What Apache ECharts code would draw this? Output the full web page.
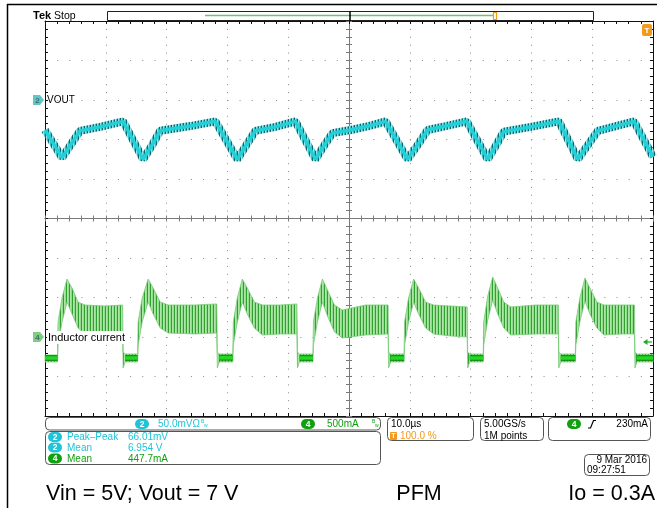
<!DOCTYPE html>
<html>
<head>
<meta charset="utf-8">
<title>VOUT / Inductor current - PFM</title>
<script src="https://cdn.jsdelivr.net/npm/echarts@6/dist/echarts.min.js"></script>
<style>
  html, body { margin: 0; padding: 0; background: #fff; }
  #main { width: 657px; height: 508px; }
</style>
</head>
<body>
<div id="main"></div>
<script>
// time base: 10 us/div, 10 divisions
// ch2 VOUT (V), 50 mV/div
const vTime = [0, 2.80, 4.12, 5.77, 9.06, 12.85, 16.14, 17.63, 18.95, 23.89, 28.01, 31.63, 33.11, 34.60, 37.89, 41.19, 44.48, 45.96, 47.28, 50.25, 53.21, 56.01, 59.64, 61.29, 62.93, 65.90, 69.36, 72.82, 74.14, 75.45, 79.90, 84.51, 87.64, 89.29, 90.94, 93.90, 96.87, 100]
const vOut = [6.962, 6.927, 6.942, 6.961, 6.966, 6.973, 6.925, 6.943, 6.961, 6.967, 6.973, 6.925, 6.943, 6.961, 6.966, 6.973, 6.925, 6.943, 6.958, 6.962, 6.967, 6.973, 6.925, 6.943, 6.962, 6.967, 6.973, 6.925, 6.942, 6.960, 6.966, 6.973, 6.925, 6.943, 6.961, 6.967, 6.973, 6.928]

// ch4 inductor current (mA), 500 mA/div - ripple envelope (low / high)
const iTime = [0, 2.06, 2.14, 2.80, 3.62, 4.45, 5.44, 6.59, 9.88, 12.77,
  12.85, 13.18, 15.24, 15.32, 15.98, 16.97, 17.79, 18.95, 20.26, 24.71,
  28.25, 28.34, 28.67, 30.89, 30.97, 31.63, 32.45, 33.28, 34.43, 35.75,
  38.71, 41.43, 41.52, 41.85, 44.07, 44.15, 44.81, 45.63, 46.46, 47.61,
  48.93, 52.72, 56.43, 56.51, 56.84, 59.06, 59.14, 59.80, 60.63, 61.45,
  62.60, 63.92, 66.72, 69.44, 69.52, 69.85, 72.08, 72.16, 72.82, 73.64,
  74.46, 75.45, 76.61, 80.72, 84.43, 84.51, 84.84, 87.23, 87.31, 87.97,
  88.80, 89.62, 90.77, 91.93, 94.73, 96.95, 97.03, 97.36, 100]
const iLow = [-16, -16, 199, 490, 743, 591, 414, 338, 351, 338,
  -92, -16, -16, 199, 490, 743, 591, 414, 351, 338,
  351, -92, -16, -16, 199, 490, 743, 591, 414, 325,
  338, 338, -92, -16, -16, 199, 490, 743, 566, 363,
  287, 325, 338, -92, -16, -16, 199, 490, 743, 591,
  414, 338, 313, 300, -92, -16, -16, 199, 515, 768,
  591, 414, 325, 338, 338, -92, -16, -16, 199, 490,
  756, 591, 414, 325, 338, 338, -92, -16, -16]
const iHigh = [72, 72, 490, 794, 1034, 920, 743, 705, 692, 705,
  110, 85, 85, 490, 794, 1034, 920, 743, 705, 705,
  718, 110, 85, 85, 490, 794, 1034, 920, 743, 705,
  705, 718, 110, 85, 85, 490, 794, 1034, 895, 705,
  642, 705, 705, 110, 85, 85, 490, 794, 1034, 920,
  743, 705, 692, 680, 110, 85, 85, 490, 819, 1060,
  920, 743, 680, 705, 705, 110, 85, 85, 490, 794,
  1047, 920, 743, 705, 705, 705, 110, 85, 85]

// zero-current (DCM) floor segments
const floorStart = [0, 13.18, 28.67, 41.85, 56.84, 69.85, 84.84, 97.36]
const floorEnd = [2.06, 15.24, 30.89, 44.07, 59.06, 72.08, 87.23, 100]
const floorLevel = [34, 34, 36, 34, 35, 34, 34, 35]

// readouts
const ch2Scale = '50.0mV'
const ch4Scale = '500mA'
const measLabels = ['Peak\u2013Peak', 'Mean', 'Mean']
const measValues = ['66.01mV', '6.954 V', '447.7mA']
const measChannels = ['2', '2', '4']

const FONT = '"Liberation Sans", Arial, sans-serif'
const CYAN = '#1fc4d8'
const GREEN = '#10a010'
const ORANGE = '#f39a1a'

var chart = echarts.init(document.getElementById('main'))

function stripes(w, cols) {
  var c = document.createElement('canvas')
  c.width = w
  c.height = 4
  var g = c.getContext('2d')
  for (var i = 0; i < w; i++) {
    g.fillStyle = cols[i % cols.length]
    g.fillRect(i, 0, 1, 4)
  }
  return { image: c, repeat: 'repeat' }
}
// switching ripple look
var curFill = stripes(3, ['#2f9f2f', '#aee6a8', '#94da8f'])
var voutNoise = stripes(3, ['#0c666c', '#9fe0e4', '#3cbfc6'])

var floorData = []
for (var k = 0; k < floorStart.length; k++) {
  floorData.push([floorStart[k], floorLevel[k]])
  floorData.push([floorEnd[k], floorLevel[k]])
  floorData.push([floorEnd[k], null])
}

function txt(x, y, s, opt) {
  return {
    type: 'text', z: 100, x: x, y: y,
    style: Object.assign({
      text: s, fill: '#000', font: '10px ' + FONT,
      verticalAlign: 'middle', textVerticalAlign: 'middle'
    }, opt || {})
  }
}
function badge(x, y, n, color) {
  return {
    type: 'group', x: x, y: y, z: 100,
    children: [
      { type: 'rect', z: 100, shape: { x: -7, y: -5, width: 14, height: 10, r: 5 }, style: { fill: color } },
      { type: 'text', z: 101, style: { text: n, x: 0, y: 0.5, fill: '#fff', font: 'bold 8.5px ' + FONT, align: 'center', textAlign: 'center', verticalAlign: 'middle', textVerticalAlign: 'middle' } }
    ]
  }
}
function panel(x, y, w, h) {
  return { type: 'rect', z: 90, shape: { x: x, y: y, width: w, height: h, r: 4 }, style: { fill: 'none', stroke: '#555', lineWidth: 1 } }
}
function chMarker(y, n, color) {
  return {
    type: 'group', z: 100,
    children: [
      { type: 'polygon', z: 100, shape: { points: [[33, y - 5], [40, y - 5], [44, y], [40, y + 5], [33, y + 5]] }, style: { fill: color } },
      { type: 'text', z: 101, style: { text: n, x: 37.5, y: y + 0.5, fill: '#3d6e6e', font: 'bold 8px ' + FONT, align: 'center', textAlign: 'center', verticalAlign: 'middle', textVerticalAlign: 'middle' } }
    ]
  }
}

function gratX(pos, offset, inside, color) {
  return {
    type: 'value', min: 0, max: 100, interval: 10, position: pos, offset: offset,
    axisLine: { onZero: false, lineStyle: { color: color, width: 1 } },
    axisTick: { inside: inside, length: 3, lineStyle: { color: color } },
    minorTick: { show: true, splitNumber: 5, length: 3, lineStyle: { color: color } },
    axisLabel: { show: false },
    splitLine: { show: false }
  }
}
function gratY(pos, offset, inside, color) {
  return {
    type: 'value', min: 0, max: 10, interval: 1, position: pos, offset: offset,
    axisLine: { onZero: false, lineStyle: { color: color, width: 1 } },
    axisTick: { inside: inside, length: 3, lineStyle: { color: color } },
    minorTick: { show: true, splitNumber: 5, length: 3, lineStyle: { color: color } },
    axisLabel: { show: false },
    splitLine: { show: false }
  }
}

var xMain = gratX('bottom', 0, true, '#111')
xMain.splitLine = { show: true, lineStyle: { color: '#8a8a8a', width: 1, type: [1, 6.9] } }
var yMain = gratY('left', 0, true, '#111')
yMain.splitLine = { show: true, lineStyle: { color: '#8a8a8a', width: 1, type: [1, 11.16] } }

var graphics = [
  // frame
  { type: 'line', z: 100, shape: { x1: 7.5, y1: 4, x2: 7.5, y2: 508 }, style: { stroke: '#000', lineWidth: 1.5 } },
  { type: 'line', z: 100, shape: { x1: 7, y1: 4.5, x2: 657, y2: 4.5 }, style: { stroke: '#000', lineWidth: 1.5 } },
  // header
  txt(33, 16, 'Tek', { font: 'bold 11px ' + FONT }),
  txt(54, 16, 'Stop', { font: '10.5px ' + FONT }),
  { type: 'rect', z: 100, shape: { x: 107.5, y: 11.5, width: 486, height: 9 }, style: { fill: '#fff', stroke: '#222', lineWidth: 1 } },
  { type: 'line', z: 101, shape: { x1: 205, y1: 15.5, x2: 494, y2: 15.5 }, style: { stroke: '#6cc46c', lineWidth: 1.5 } },
  { type: 'line', z: 101, shape: { x1: 350, y1: 11, x2: 350, y2: 21 }, style: { stroke: '#000', lineWidth: 1.5 } },
  { type: 'rect', z: 101, shape: { x: 493.5, y: 12.5, width: 3, height: 7 }, style: { fill: 'none', stroke: ORANGE, lineWidth: 1.2 } },
  // trigger position marker
  { type: 'rect', z: 100, shape: { x: 642, y: 24, width: 10, height: 12, r: 2 }, style: { fill: ORANGE } },
  txt(647, 30.5, 'T', { fill: '#fff', font: 'bold 8px ' + FONT, align: 'center', textAlign: 'center' }),
  // trigger level (ch4)
  { type: 'polygon', z: 100, shape: { points: [[643, 342], [647.5, 339], [647.5, 345]] }, style: { fill: '#22aa22' } },
  { type: 'line', z: 100, shape: { x1: 647, y1: 342, x2: 652, y2: 342 }, style: { stroke: '#22aa22', lineWidth: 1.2 } },
  // channel markers + labels
  chMarker(100, '2', '#62c6c6'),
  txt(47, 100.5, 'VOUT'),
  chMarker(337, '4', '#80cc80'),
  txt(47, 337.5, 'Inductor current', { font: '11px ' + FONT, backgroundColor: '#fff', padding: [1, 1] }),
  // bottom panels
  panel(45.5, 417.5, 335, 12.5),
  panel(45.5, 431.5, 335, 33),
  panel(387.5, 417.5, 86, 23),
  panel(480.5, 417.5, 63, 23),
  panel(548.5, 417.5, 102, 23),
  panel(584.5, 454.5, 65, 21),
  badge(142, 424, '2', CYAN),
  txt(158, 424.5, ch2Scale + '\u03a9', { fill: CYAN, font: '10px ' + FONT }),
  txt(201, 421.5, 'B', { fill: CYAN, font: '5px ' + FONT }),
  txt(204, 426, 'w', { fill: CYAN, font: '5px ' + FONT }),
  badge(308, 424, '4', GREEN),
  txt(327, 424.5, ch4Scale, { fill: GREEN, font: '10px ' + FONT }),
  txt(372, 421.5, 'B', { fill: GREEN, font: '5px ' + FONT }),
  txt(375, 426, 'w', { fill: GREEN, font: '5px ' + FONT }),
  txt(391, 424.5, '10.0\u00b5s', { font: '10px ' + FONT }),
  { type: 'rect', z: 100, shape: { x: 390, y: 432, width: 7, height: 8, r: 1 }, style: { fill: ORANGE } },
  txt(393.5, 436.5, 'T', { fill: '#fff', font: 'bold 7px ' + FONT, align: 'center', textAlign: 'center' }),
  txt(400, 436.5, '100.0 %', { fill: ORANGE, font: '10px ' + FONT }),
  txt(484, 424.5, '5.00GS/s', { font: '10px ' + FONT }),
  txt(484, 436.5, '1M points', { font: '10px ' + FONT }),
  badge(574, 424, '4', GREEN),
  { type: 'polyline', z: 100, shape: { points: [[588, 428], [590.5, 428], [593.5, 420.5], [596, 420.5]] }, style: { stroke: '#000', lineWidth: 1.2, fill: 'none' } },
  txt(648, 424.5, '230mA', { font: '10px ' + FONT, align: 'right', textAlign: 'right' }),
  txt(647, 460.5, '9 Mar 2016', { font: '10px ' + FONT, align: 'right', textAlign: 'right' }),
  txt(587, 470.5, '09:27:51', { font: '10px ' + FONT }),
  // caption
  txt(46, 494, 'Vin = 5V; Vout = 7 V', { font: '21.5px ' + FONT }),
  txt(419, 494, 'PFM', { font: '21.5px ' + FONT, align: 'center', textAlign: 'center' }),
  txt(655, 494, 'Io = 0.3A', { font: '21.5px ' + FONT, align: 'right', textAlign: 'right' })
]

// measurement rows
var rowY = [437, 447.5, 458.5]
for (var r = 0; r < measLabels.length; r++) {
  var c = measChannels[r] === '2' ? CYAN : GREEN
  graphics.push(badge(55, rowY[r], measChannels[r], c))
  graphics.push(txt(67, rowY[r] + 0.5, measLabels[r], { fill: c, font: '10px ' + FONT }))
  graphics.push(txt(128, rowY[r] + 0.5, measValues[r], { fill: c, font: '10px ' + FONT }))
}

// inductor current ripple band: one polygon through the envelope points
function renderBand(params, api) {
  if (params.dataIndex !== 0) {
    return null
  }
  var top = []
  var bot = []
  for (var i = 0; i < iTime.length; i++) {
    top.push(api.coord([iTime[i], iHigh[i]]))
    bot.push(api.coord([iTime[i], iLow[i]]))
  }
  return {
    type: 'polygon',
    shape: { points: top.concat(bot.reverse()) },
    style: { fill: curFill, stroke: '#79cc79', lineWidth: 0.8 }
  }
}

chart.setOption({
  backgroundColor: '#fff',
  animation: false,
  grid: { left: 45, top: 21, width: 608, height: 395, containLabel: false },
  xAxis: [
    xMain,
    gratX('top', 0, true, '#111'),
    gratX('bottom', -197.5, true, '#7a7a7a'),
    gratX('bottom', -197.5, false, '#7a7a7a')
  ],
  yAxis: [
    yMain,
    gratY('right', 0, true, '#111'),
    gratY('left', -304, true, '#7a7a7a'),
    gratY('left', -304, false, '#7a7a7a'),
    { type: 'value', show: false, min: 6.6, max: 7.1, axisLine: { onZero: false } },
    { type: 'value', show: false, min: -700, max: 4300, axisLine: { onZero: false } }
  ],
  series: [
    {
      name: 'Inductor current', type: 'custom', xAxisIndex: 0, yAxisIndex: 5,
      silent: true, renderItem: renderBand,
      encode: { x: 0, y: [1, 2] },
      data: iTime.map(function(t, i) { return [t, iLow[i], iHigh[i]] })
    },
    {
      name: 'floorEdge', type: 'line', xAxisIndex: 0, yAxisIndex: 5,
      symbol: 'none', silent: true, connectNulls: false,
      lineStyle: { width: 6, color: '#1a8f1a' },
      data: floorData
    },
    {
      name: 'floor', type: 'line', xAxisIndex: 0, yAxisIndex: 5,
      symbol: 'none', silent: true, connectNulls: false,
      lineStyle: { width: 3.5, color: '#22d822' },
      data: floorData
    },
    {
      name: 'voutNoise', type: 'line', xAxisIndex: 0, yAxisIndex: 4,
      symbol: 'none', silent: true,
      lineStyle: { width: 8, color: voutNoise },
      data: vTime.map(function(t, i) { return [t, vOut[i]] })
    },
    {
      name: 'VOUT', type: 'line', xAxisIndex: 0, yAxisIndex: 4,
      symbol: 'none', silent: true,
      lineStyle: { width: 3.5, color: '#22d0d8' },
      data: vTime.map(function(t, i) { return [t, vOut[i]] })
    }
  ],
  graphic: graphics
})
</script>
</body>
</html>
